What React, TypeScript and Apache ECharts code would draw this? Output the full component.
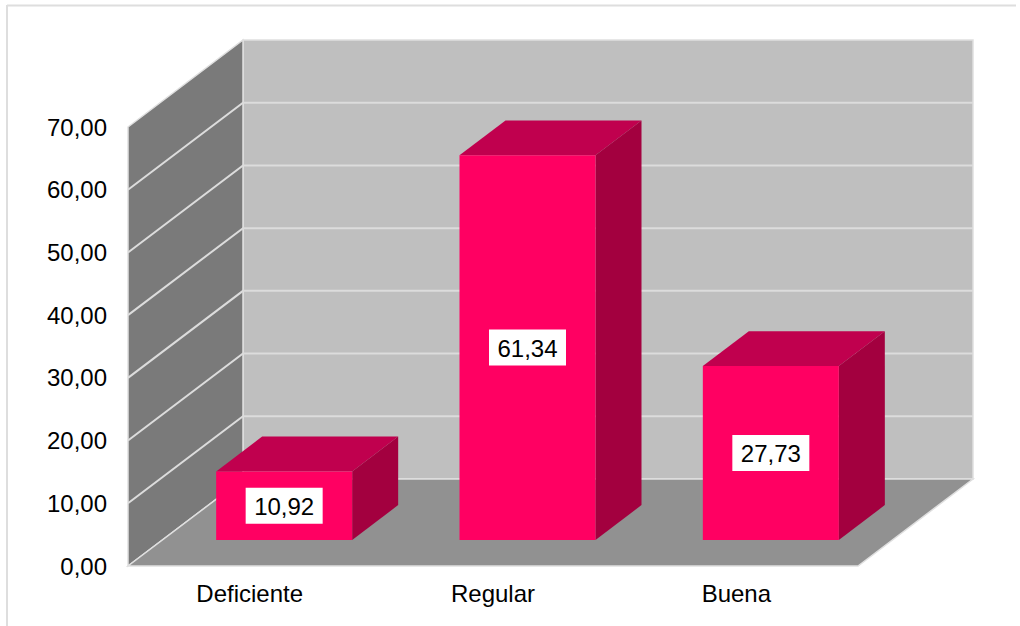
import React, { useEffect, useRef } from "react";
import * as echarts from "echarts";

const categories = ["Deficiente", "Regular", "Buena"];
const values = [10.92, 61.34, 27.73];
const valueLabels = ["10,92", "61,34", "27,73"];
const yMax = 70;
const yStep = 10;
const yTicks = [0, 10, 20, 30, 40, 50, 60, 70];

const DX = 115;
const DY = -87;
const BAR_NEAR = 0.3;
const BAR_FAR = 0.7;
const BAR_WIDTH = 136;
const FONT_SIZE = 24;

const pts = (list: number[][]) => ({ points: list });

function App() {
  const ref = useRef<HTMLDivElement>(null);
  useEffect(() => {
    const chart = echarts.init(ref.current!, undefined, { renderer: "svg" });

    const renderRoom = (_: any, api: any) => {
      const x0 = api.coord([0, 0])[0] - api.size([1, 0])[0] / 2;
      const x1 = x0 + api.size([1, 0])[0] * categories.length;
      const y0 = api.coord([0, 0])[1];
      const yT = api.coord([0, yMax])[1];
      const gridStyle = { stroke: "#dcdcdc", lineWidth: 2, fill: "none" };
      const children: any[] = [
        { type: "polygon", shape: pts([[x0 + DX, y0 + DY], [x1 + DX, y0 + DY], [x1 + DX, yT + DY], [x0 + DX, yT + DY]]), style: { fill: "#bfbfbf", stroke: "#dfdfdf", lineWidth: 1.5 } },
        { type: "polygon", shape: pts([[x0, y0], [x0 + DX, y0 + DY], [x0 + DX, yT + DY], [x0, yT]]), style: { fill: "#7a7a7a", stroke: "#dfdfdf", lineWidth: 1.5 } },
        { type: "polygon", shape: pts([[x0, y0], [x1, y0], [x1 + DX, y0 + DY], [x0 + DX, y0 + DY]]), style: { fill: "#919191", stroke: "#dfdfdf", lineWidth: 1.5 } },
      ];
      yTicks.slice(1, -1).forEach((t) => {
        const y = api.coord([0, t])[1];
        children.push({ type: "polyline", shape: pts([[x0, y], [x0 + DX, y + DY], [x1 + DX, y + DY]]), style: gridStyle });
      });
      return { type: "group", children };
    };

    const renderBar = (_: any, api: any) => {
      const cat = api.value(0);
      const val = api.value(1);
      const [cx, y0] = api.coord([cat, 0]);
      const yV = api.coord([cat, val])[1];
      const ox = DX * BAR_NEAR;
      const oy = DY * BAR_NEAR;
      const l = cx + ox - BAR_WIDTH / 2;
      const r = cx + ox + BAR_WIDTH / 2;
      const b = y0 + oy;
      const t = yV + oy;
      const dx = DX * (BAR_FAR - BAR_NEAR);
      const dy = DY * (BAR_FAR - BAR_NEAR);
      return {
        type: "group",
        children: [
          { type: "polygon", shape: pts([[l, t], [r, t], [r + dx, t + dy], [l + dx, t + dy]]), style: { fill: "#c0004e" } },
          { type: "polygon", shape: pts([[r, t], [r + dx, t + dy], [r + dx, b + dy], [r, b]]), style: { fill: "#a3003f" } },
          { type: "rect", shape: { x: l, y: t, width: BAR_WIDTH, height: b - t }, style: { fill: "#ff0062" } },
          {
            type: "rect",
            shape: { x: (l + r) / 2 - 38.5, y: (t + b) / 2 - 18, width: 77, height: 36 },
            style: { fill: "#ffffff" },
          },
          {
            type: "text",
            x: (l + r) / 2,
            y: (t + b) / 2 + 1,
            style: {
              text: valueLabels[cat],
              fill: "#000000",
              font: FONT_SIZE + 'px "Liberation Sans"',
              align: "center",
              verticalAlign: "middle",
            },
          },
        ],
      };
    };

    chart.setOption({
      animation: false,
      backgroundColor: "#ffffff",
      graphic: [
        { type: "line", shape: { x1: 7, y1: 5.5, x2: 1016, y2: 5.5 }, style: { stroke: "#dedede", lineWidth: 2 } },
        { type: "line", shape: { x1: 7, y1: 5, x2: 7, y2: 626 }, style: { stroke: "#dedede", lineWidth: 2 } },
      ],
      grid: { left: 128, top: 127, width: 730, height: 439, containLabel: false },
      xAxis: {
        type: "category",
        data: categories,
        axisLine: { show: false },
        axisTick: { show: false },
        axisLabel: { color: "#000000", fontFamily: "Liberation Sans", fontSize: FONT_SIZE, margin: 15 },
        splitLine: { show: false },
      },
      yAxis: {
        type: "value",
        min: 0,
        max: yMax,
        interval: yStep,
        axisLine: { show: false },
        axisTick: { show: false },
        splitLine: { show: false },
        axisLabel: {
          color: "#000000",
          fontFamily: "Liberation Sans",
          fontSize: FONT_SIZE,
          margin: 21,
          padding: [2, 0, 0, 0],
          formatter: (v: number) => v.toFixed(2).replace(".", ","),
        },
      },
      series: [
        { type: "custom", silent: true, clip: false, z: 1, renderItem: renderRoom, data: [[0, 0]] },
        {
          type: "custom",
          silent: true,
          clip: false,
          z: 2,
          renderItem: renderBar,
          encode: { x: 0, y: 1 },
          data: categories.map((_, i) => [i, values[i]]),
        },
      ],
    });
    return () => chart.dispose();
  }, []);
  return <div ref={ref} style={{ position: "fixed", left: 0, top: 0, width: 1020, height: 626 }} />;
}

export default App;
